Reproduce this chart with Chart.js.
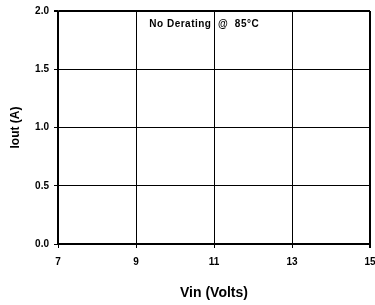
<!DOCTYPE html>
<html>
<head>
<meta charset="utf-8">
<script src="https://cdn.jsdelivr.net/npm/chart.js@4.4.0/dist/chart.umd.min.js"></script>
<style>
  body { margin: 0; background: #fff; }
</style>
</head>
<body>
<canvas id="chart" width="375" height="305"></canvas>
<script>
// DATA
const vin = [7, 15];
const iout = [2.0, 2.0];
const xTicks = [7, 9, 11, 13, 15];
const yTicks = [0.0, 0.5, 1.0, 1.5, 2.0];
const note = "No Derating  @  85°C";

const FONT = "'Liberation Sans', Arial, sans-serif";

// note drawn inside plot, near top
const notePlugin = {
  id: "note",
  afterDatasetsDraw(chart) {
    const { ctx, scales } = chart;
    ctx.save();
    ctx.font = "bold 10px " + FONT;
    ctx.letterSpacing = "0.5px";
    ctx.fillStyle = "#000";
    ctx.textAlign = "center";
    ctx.textBaseline = "middle";
    ctx.fillText(note, scales.x.getPixelForValue(10.75), scales.y.getPixelForValue(1.885));
    ctx.restore();
  }
};

const ctx = document.getElementById("chart").getContext("2d");
new Chart(ctx, {
  type: "line",
  data: {
    datasets: [{
      data: vin.map((v, i) => ({ x: v, y: iout[i] })),
      borderColor: "#000",
      borderWidth: 2,
      pointRadius: 0,
      tension: 0
    }]
  },
  options: {
    responsive: false,
    animation: false,
    layout: { padding: { top: 11, right: 5, left: 0, bottom: 0 } },
    plugins: { legend: { display: false }, tooltip: { enabled: false } },
    scales: {
      x: {
        type: "linear",
        min: 7,
        max: 15,
        afterBuildTicks: (s) => { s.ticks = xTicks.map(v => ({ value: v })); },
        afterFit: (s) => { s.height = 61; s.paddingLeft = 0; s.paddingRight = 0; },
        ticks: {
          color: "#000",
          padding: 8,
          font: { family: FONT, size: 10, weight: "bold" }
        },
        grid: {
          color: "#000",
          lineWidth: (c) => (c.tick && c.tick.value === 15 ? 2 : 1),
          tickLength: 4
        },
        border: { color: "#000", width: 2 },
        title: {
          display: true,
          text: "Vin (Volts)",
          color: "#000",
          padding: { top: 0, bottom: 3 },
          font: { family: FONT, size: 14, weight: "bold" }
        }
      },
      y: {
        min: 0,
        max: 2,
        afterBuildTicks: (s) => { s.ticks = yTicks.map(v => ({ value: v })); },
        afterFit: (s) => { s.width = 58; s.paddingTop = 0; s.paddingBottom = 0; },
        ticks: {
          color: "#000",
          padding: 5,
          font: { family: FONT, size: 10, weight: "bold" },
          callback: (v) => Number(v).toFixed(1)
        },
        grid: {
          color: "#000",
          lineWidth: (c) => (c.tick && c.tick.value === 2 ? 2 : 1),
          tickLength: 4
        },
        border: { color: "#000", width: 1.5 },
        title: {
          display: true,
          text: "Iout (A)",
          color: "#000",
          padding: { top: 8, bottom: 0 },
          font: { family: FONT, size: 12, weight: "bold" }
        }
      }
    }
  },
  plugins: [notePlugin]
});
</script>
</body>
</html>
